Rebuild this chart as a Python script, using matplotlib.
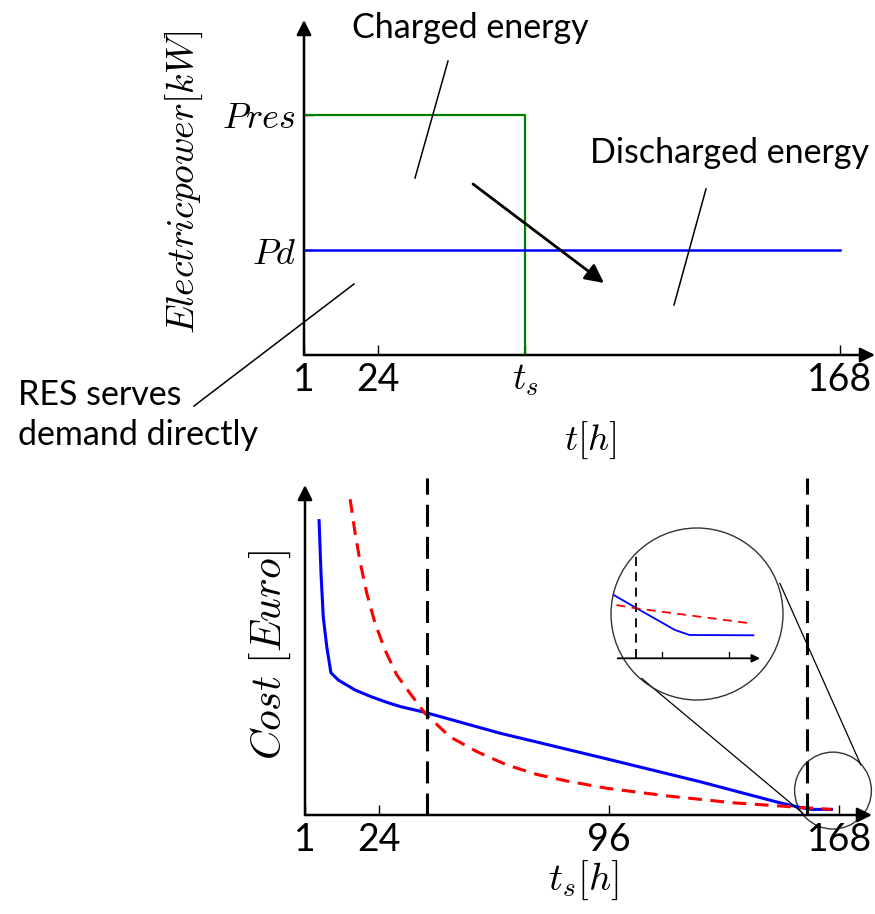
import numpy as np
import matplotlib
matplotlib.use("Agg")
import matplotlib.pyplot as plt
from matplotlib.patches import Ellipse, Circle
from matplotlib.lines import Line2D

plt.rcParams['font.family'] = ['Lato', 'DejaVu Sans']
plt.rcParams['mathtext.fontset'] = 'cm'

# top panel (schematic)
t_top_ticks = [1, 24, 70, 168]
t_top_labels = ['1', '24', '$t_s$', '168']
t_s = 70
p_res = 2.29
p_d = 1.0

# bottom panel
ts_ticks = [1, 24, 96, 168]
ts_blue = [5.4, 6.0, 6.7, 7.8, 9.1, 11.4, 16.6, 21.8, 27.0, 31.0, 38.5, 61.9, 93.2,
           124.4, 149.4, 155.7, 159.3, 165.5]
cost_blue = [89.2, 73.3, 60.1, 51.0, 43.1, 40.9, 37.9, 35.8, 34.0, 32.8, 31.1, 24.8, 17.5,
             10.1, 3.7, 2.3, 1.7, 1.7]
ts_red = [15.1, 16.6, 18.2, 20.3, 22.9, 26.0, 29.7, 33.8, 38.5, 46.3, 54.7, 64.0, 73.4,
          82.8, 95.3, 114, 134.8, 155.7, 165.5]
cost_red = [95.7, 85.8, 76.8, 67.2, 58.1, 50.0, 42.4, 36.9, 30.8, 23.7, 19.2, 15.2, 12.3,
            10.3, 8.1, 5.8, 3.7, 2.3, 1.7]
vlines_ts = [39, 158]

# zoomed inset
zoom_t_blue = [154.0, 158, 163.9, 166.1, 175.7]
zoom_c_blue = [6.6, 5.06, 2.83, 2.33, 2.30]
zoom_t_red = [155.1, 158, 175.2]
zoom_c_red = [5.33, 5.0, 3.5]
zoom_ticks = [158, 162, 172]

W, H = 875, 914


def fx(px):
    return px / W


def fy(py):
    return 1 - py / H


def arrow_axes(ax, lw=1.8, ms=22):
    for s in ax.spines.values():
        s.set_visible(False)
    ap = dict(arrowstyle='-|>', color='k', lw=lw, mutation_scale=ms, shrinkA=0, shrinkB=0)
    ax.annotate('', xy=(1, 0), xytext=(0, 0), xycoords='axes fraction', arrowprops=ap)
    ax.annotate('', xy=(0, 1), xytext=(0, 0), xycoords='axes fraction', arrowprops=ap)


fig = plt.figure(figsize=(W / 100, H / 100), dpi=100)

# ---------- top ----------
ax1 = fig.add_axes([fx(304), fy(355), (875 - 304) / W, 335 / H])
ax1.set_xlim(1, 1 + 571 / 3.21)
ax1.set_ylim(0, 335 / 105)
ax1.plot([1, t_s, t_s], [p_res, p_res, 0], color='green', lw=1.6)
ax1.plot([1, 168], [p_d, p_d], color='blue', lw=1.8)
arrow_axes(ax1)
ax1.set_xticks(t_top_ticks, t_top_labels)
ax1.set_yticks([p_d, p_res], ['$Pd$', '$Pres$'])
ax1.tick_params(axis='x', direction='in', length=7, width=1, labelsize=27, pad=5)
ax1.tick_params(axis='y', direction='in', length=7, width=1, labelsize=26, pad=6)
fig.text(fx(184), fy(182), '$Electricpower[kW]$', fontsize=27, rotation=90,
         ha='center', va='center')
fig.text(fx(590), fy(440), '$t[h]$', fontsize=26.5, ha='center', va='center')

fig.text(fx(470), fy(28), 'Charged energy', fontsize=24.5, ha='center', va='center')
fig.text(fx(730), fy(153), 'Discharged energy', fontsize=24.5, ha='center', va='center')
fig.text(fx(18), fy(415), 'RES serves\ndemand directly', fontsize=24.5, ha='left', va='center',
         linespacing=1.3)

for (xa, ya), (xb, yb) in [((448, 61), (415, 178)), ((706, 189), (674, 305)), ((354, 284), (194, 406))]:
    fig.add_artist(Line2D([fx(xa), fx(xb)], [fy(ya), fy(yb)], color='k', lw=1.1,
                          transform=fig.transFigure))
ax1.annotate('', xy=(fx(604), fy(283)), xytext=(fx(473), fy(184)), xycoords='figure fraction',
             arrowprops=dict(arrowstyle='-|>', color='k', lw=2, mutation_scale=28,
                             shrinkA=0, shrinkB=0))

# ---------- bottom ----------
ax2 = fig.add_axes([fx(305), fy(815), (872 - 305) / W, 330 / H])
ax2.set_xlim(1, 1 + 567 / 3.2)
ax2.set_ylim(0, 100)
ax2.plot(ts_blue, cost_blue, color='blue', lw=2.2, clip_on=False, solid_joinstyle='round')
ax2.plot(ts_red, cost_red, color='red', lw=2.2, ls=(0, (4.5, 2.8)), clip_on=False)
for v in vlines_ts:
    ax2.plot([v, v], [0, 102], color='k', lw=2.2, ls=(0, (7.2, 3.3)), clip_on=False)
arrow_axes(ax2)
ax2.set_xticks(ts_ticks, [str(t) for t in ts_ticks])
ax2.set_yticks([])
ax2.tick_params(axis='x', direction='in', length=7, width=1, labelsize=27, pad=5)
fig.text(fx(270), fy(655), r'$Cost\ [Euro]$', fontsize=30, rotation=90,
         ha='center', va='center')
fig.text(fx(583), fy(880), '$t_s[h]$', fontsize=28, ha='center', va='center')

# zoom marker circles and connectors (bottom axes data coords)
ax2.add_patch(Ellipse((166, 7.4), 24, 23.3, fill=False, ec='#333333', lw=1, clip_on=False))
ax2.plot([149.4, 174.7], [70.2, 15.2], color='k', lw=0.9, clip_on=False)
ax2.plot([106.2, 156.6], [41.4, 0.5], color='k', lw=0.9, clip_on=False)

# inset
ax3 = fig.add_axes([fx(611), fy(700), 172 / W, 172 / H])
ax3.set_facecolor('none')
ax3.axis('off')
x0 = 158 - (635.7 - 611) / 6.65
ax3.set_xlim(x0, x0 + 172 / 6.65)
ax3.set_ylim((658.3 - 700) / 10, (658.3 - 528) / 10)
clip = Circle((0.5, 0.5), 0.5, transform=ax3.transAxes)
arts = []
arts += ax3.plot(zoom_t_blue, zoom_c_blue, color='blue', lw=1.3)
arts += ax3.plot(zoom_t_red, zoom_c_red, color='red', lw=1.3, ls=(0, (5, 3.5)))
arts += ax3.plot([158, 158], [0, 11.0], color='k', lw=1.3, ls=(0, (5, 3.5)))
for t in zoom_ticks[1:]:
    arts += ax3.plot([t, t], [0, 0.6], color='k', lw=0.9)
for a in arts:
    a.set_clip_path(clip)
ax3.annotate('', xy=(176.7, 0), xytext=(155.3, 0), xycoords='data',
             arrowprops=dict(arrowstyle='-|>', color='k', lw=1.3, mutation_scale=12,
                             shrinkA=0, shrinkB=0))
ax3.add_patch(Circle((0.5, 0.5), 0.5, transform=ax3.transAxes, fill=False,
                     ec='#333333', lw=1, clip_on=False))

fig.savefig('out.png', dpi=100)
